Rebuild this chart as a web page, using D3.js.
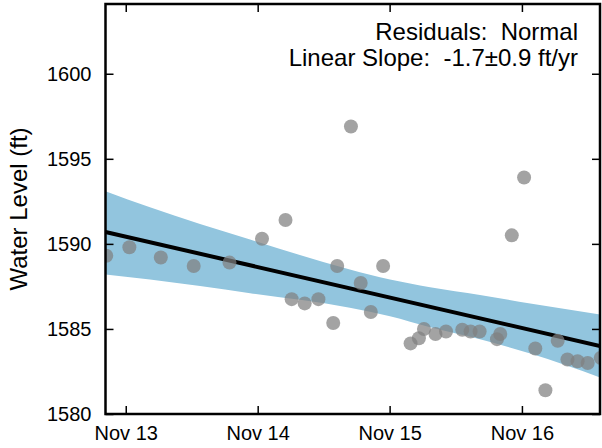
<!DOCTYPE html>
<html>
<head>
<meta charset="utf-8">
<script src="https://cdn.jsdelivr.net/npm/d3@7"></script>
<style>
  body { margin: 0; background: #fff; }
  svg { display: block; font-family: "Liberation Sans", Arial, Helvetica, sans-serif; }
</style>
</head>
<body>
<div id="chart"></div>
<script>
// observation dates and water levels (ft)
const obsDates = [
  "2013-09-08", "2013-11-11", "2014-02-06", "2014-05-08", "2014-08-15",
  "2014-11-13", "2015-01-17", "2015-02-03", "2015-03-11", "2015-04-18",
  "2015-05-29", "2015-06-09", "2015-07-17", "2015-08-13", "2015-09-10",
  "2015-10-14", "2015-12-29", "2016-01-21", "2016-02-04", "2016-03-07",
  "2016-04-05", "2016-05-20", "2016-06-12", "2016-07-07", "2016-08-24",
  "2016-09-02", "2016-10-04", "2016-11-07", "2016-12-08", "2017-01-05",
  "2017-02-08", "2017-03-07", "2017-04-04", "2017-05-02", "2017-06-07"
];
const obsLevels = [
  1589.3, 1589.8, 1589.2, 1588.7, 1588.9,
  1590.3, 1591.4, 1586.75, 1586.5, 1586.75,
  1585.35, 1588.7, 1596.9, 1587.7, 1586.0,
  1588.7, 1584.15, 1584.45, 1585.0, 1584.7,
  1584.85, 1584.95, 1584.85, 1584.85, 1584.4,
  1584.7, 1590.5, 1593.9, 1583.85, 1581.4,
  1584.3, 1583.2, 1583.1, 1583.0, 1583.3
];

// linear trend (endpoints) and its confidence band
const trendDates = ["2013-09-06", "2017-06-05"];
const trendLevels = [1590.7, 1584.0];

const bandDates = [
  "2013-09-06", "2014-01-07", "2014-10-11", "2015-07-14",
  "2015-11-02", "2016-02-21", "2016-07-08", "2016-11-24", "2017-06-05"
];
const bandUpper = [1593.1, 1592.15, 1590.25, 1588.5, 1587.9, 1587.45, 1587.0, 1586.5, 1585.85];
const bandLower = [1588.2, 1587.9, 1587.1, 1586.25, 1585.75, 1585.1, 1584.4, 1583.55, 1582.15];

const xDomain = ["2013-09-06", "2017-06-05"];
const xTicks = ["2013-11-01", "2014-11-01", "2015-11-01", "2016-11-01"];
const xTickLabels = ["Nov 13", "Nov 14", "Nov 15", "Nov 16"];
const yDomain = [1580, 1604.1];
const yTicks = [1580, 1585, 1590, 1595, 1600];

const annotation = ["Residuals:  Normal", "Linear Slope:  -1.7\u00b10.9 ft/yr"];

const width = 602, height = 448;
const margin = { top: 4, right: 2, bottom: 34, left: 105.5 };
const w = width - margin.left - margin.right;
const h = height - margin.top - margin.bottom;

const parse = d3.timeParse("%Y-%m-%d");

const x = d3.scaleTime()
    .domain(xDomain.map(parse))
    .range([0, w]);

const y = d3.scaleLinear()
    .domain(yDomain)
    .range([h, 0]);

const svg = d3.select("#chart").append("svg")
    .attr("width", width)
    .attr("height", height);

svg.append("defs").append("clipPath")
    .attr("id", "plot-clip")
    .append("rect")
    .attr("width", w)
    .attr("height", h);

const g = svg.append("g")
    .attr("transform", `translate(${margin.left},${margin.top})`);

const plot = g.append("g").attr("clip-path", "url(#plot-clip)");

// confidence band
const band = bandDates.map((d, i) => ({ date: parse(d), hi: bandUpper[i], lo: bandLower[i] }));
plot.append("path")
    .datum(band)
    .attr("fill", "#92c5de")
    .attr("d", d3.area()
        .x(d => x(d.date))
        .y0(d => y(d.lo))
        .y1(d => y(d.hi))
        .curve(d3.curveMonotoneX));

// trend line
const trend = trendDates.map((d, i) => ({ date: parse(d), v: trendLevels[i] }));
plot.append("path")
    .datum(trend)
    .attr("fill", "none")
    .attr("stroke", "#000")
    .attr("stroke-width", 4)
    .attr("d", d3.line().x(d => x(d.date)).y(d => y(d.v)));

// observations
const obs = obsDates.map((d, i) => ({ date: parse(d), v: obsLevels[i] }));
plot.append("g")
    .selectAll("circle")
    .data(obs)
    .enter()
    .append("circle")
    .attr("cx", d => x(d.date))
    .attr("cy", d => y(d.v))
    .attr("r", 7)
    .attr("fill", "#808080")
    .attr("fill-opacity", 0.72);

// axes, ticks pointing inward on all four sides
const tickLen = 8;
const xTickDates = xTicks.map(parse);

const bottomAxis = g.append("g")
    .attr("transform", `translate(0,${h})`)
    .call(d3.axisBottom(x)
        .tickValues(xTickDates)
        .tickFormat((d, i) => xTickLabels[i])
        .tickSizeInner(-tickLen)
        .tickSizeOuter(0)
        .tickPadding(tickLen + 4));

const topAxis = g.append("g")
    .call(d3.axisTop(x)
        .tickValues(xTickDates)
        .tickFormat("")
        .tickSizeInner(-tickLen)
        .tickSizeOuter(0));

const leftAxis = g.append("g")
    .call(d3.axisLeft(y)
        .tickValues(yTicks)
        .tickFormat(d3.format("d"))
        .tickSizeInner(-tickLen)
        .tickSizeOuter(0)
        .tickPadding(tickLen + 6));

const rightAxis = g.append("g")
    .attr("transform", `translate(${w},0)`)
    .call(d3.axisRight(y)
        .tickValues(yTicks)
        .tickFormat("")
        .tickSizeInner(-tickLen)
        .tickSizeOuter(0));

[bottomAxis, topAxis, leftAxis, rightAxis].forEach(a => {
    a.select(".domain").remove();
    a.selectAll(".tick line").attr("stroke", "#000").attr("stroke-width", 1.5);
    a.selectAll(".tick text")
        .attr("fill", "#000")
        .style("font-size", "20px")
        .style("font-family", "'Liberation Sans', Arial, sans-serif");
});

// frame
g.append("rect")
    .attr("width", w)
    .attr("height", h)
    .attr("fill", "none")
    .attr("stroke", "#000")
    .attr("stroke-width", 2.5);

// y axis title
g.append("text")
    .attr("transform", `translate(${-79},${h / 2}) rotate(-90)`)
    .attr("text-anchor", "middle")
    .style("font-size", "24px")
    .text("Water Level (ft)");

// annotation
g.append("g")
    .selectAll("text")
    .data(annotation)
    .enter()
    .append("text")
    .attr("x", w - 22)
    .attr("y", (d, i) => 36 + i * 26)
    .attr("text-anchor", "end")
    .style("font-size", "24px")
    .style("white-space", "pre")
    .text(d => d);
</script>
</body>
</html>
